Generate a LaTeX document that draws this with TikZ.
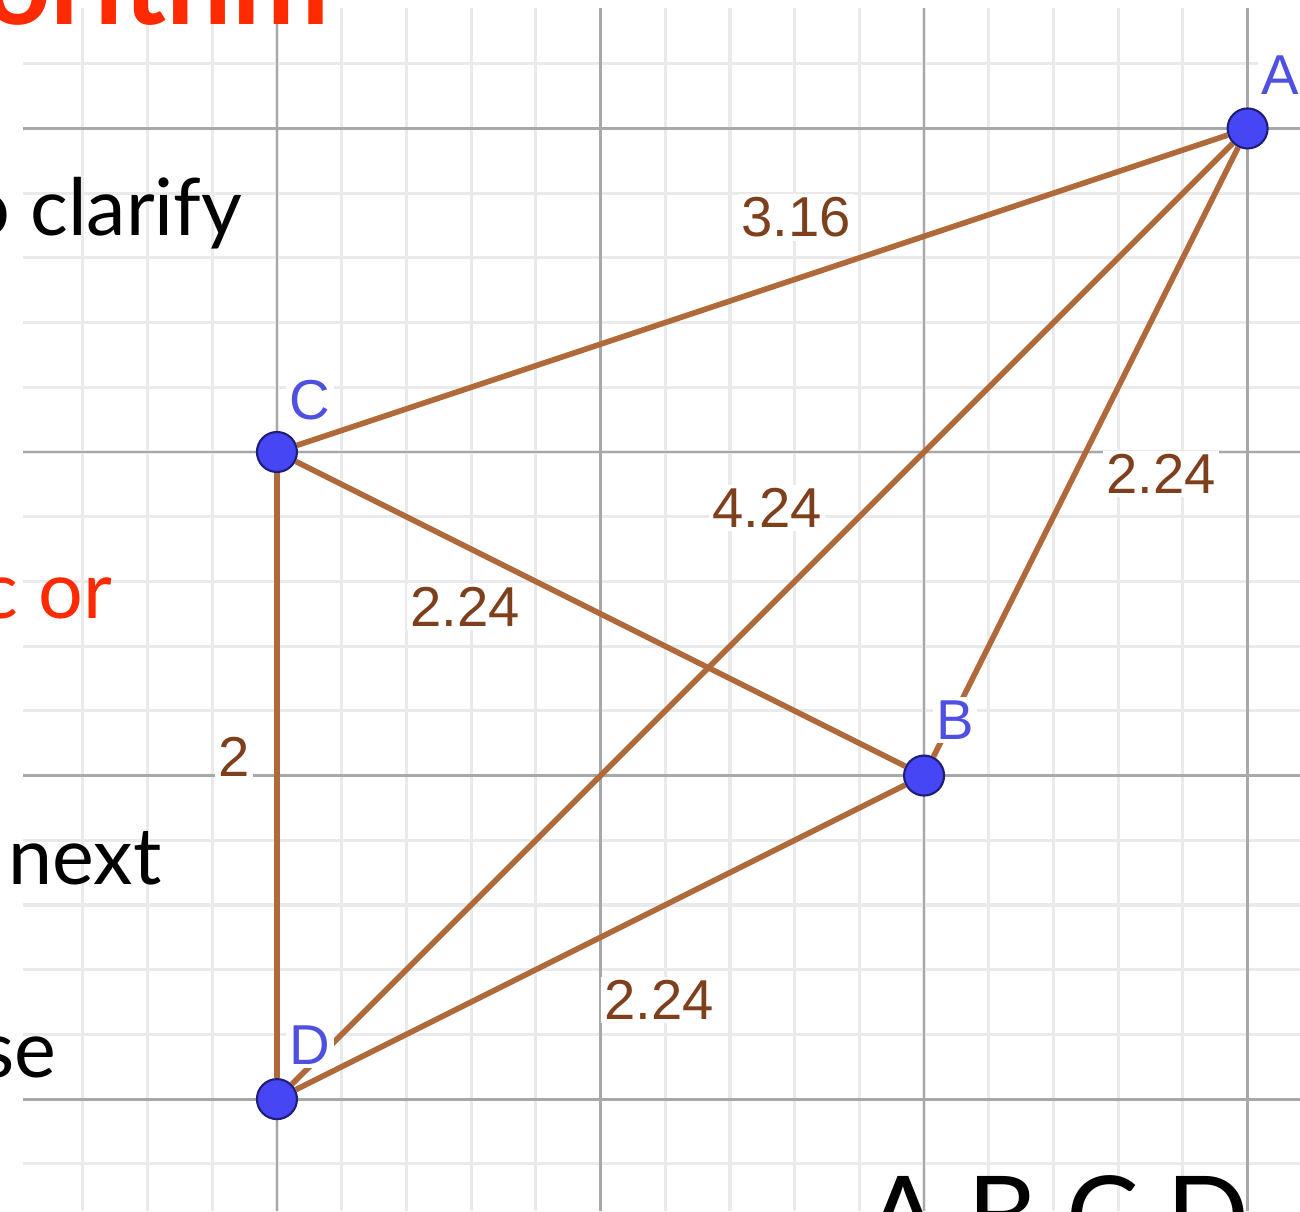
\documentclass[tikz,border=0pt]{standalone}
\usepackage{fontspec}
\setmainfont{Lato}
\newfontfamily\geofont{Liberation Sans}
\usetikzlibrary{positioning}
\definecolor{segCol}{HTML}{B0693A}
\definecolor{segText}{HTML}{7E3F1C}
\definecolor{ptFill}{HTML}{4646F5}
\definecolor{ptDraw}{HTML}{1E1E78}
\definecolor{ptText}{HTML}{4F4FE0}
\definecolor{gridMajor}{HTML}{A8A8A8}
\definecolor{gridMinor}{HTML}{EAEAEA}
\definecolor{slideRed}{HTML}{FF2A00}
\tikzset{
  minorgrid/.style={draw=gridMinor, line width=0.9pt},
  majorgrid/.style={draw=gridMajor, line width=0.8pt},
  seg/.style={draw=segCol, line width=1.6pt},
  pt/.style={
    circle, fill=ptFill, draw=ptDraw, line width=0.6pt,
    minimum size=0.4cm, inner sep=0pt,
  },
  vlabel/.style={
    fill=white, text=ptText, inner sep=1pt,
    font=\geofont\fontsize{16}{18}\selectfont,
  },
  elabel/.style={
    fill=white, text=segText, inner sep=1pt,
    font=\geofont\fontsize{16}{18}\selectfont,
  },
  slidetext/.style={inner sep=0pt, font=\fontsize{22.5}{26}\selectfont},
}

\begin{document}
\begin{tikzpicture}[x=3.235cm, y=3.235cm]

\useasboundingbox[fill=white] (-0.856,-0.346) rectangle (3.162,3.397);

% grid
\draw[minorgrid] (-0.785,-0.346) grid[step=0.2] (3.162,3.372);
\draw[majorgrid] (-0.785,-0.346) grid[step=1] (3.162,3.372);

% slide text behind the graph
\node[slidetext, anchor=base east, text=slideRed,
      font=\fontsize{33}{36}\selectfont\bfseries] (title) at (0.164,3.320) {orithm};
\node[slidetext, anchor=base east] (clarify) at (-0.105,2.668) {o clarify};
\node[slidetext, anchor=base east, text=slideRed] (cor) at (-0.507,1.484) {c or};
\node[slidetext, anchor=base west] (next) at (-0.832,0.662) {next};
\node[slidetext, anchor=base east] (se) at (-0.680,0.068) {se};
\node[slidetext, anchor=base, font=\fontsize{31}{36}\selectfont] (abcd) at (2.414,-0.479) {A B C D};

% points
\node[pt] (A) at (3,3) {};
\node[pt] (B) at (2,1) {};
\node[pt] (C) at (0,2) {};
\node[pt] (D) at (0,0) {};

% segments
\draw[seg] (C) -- (A);
\draw[seg] (B) -- (A);
\draw[seg] (C) -- (B);
\draw[seg] (C) -- (D);
\draw[seg] (D) -- (A);
\draw[seg] (D) -- (B);

% point labels
\node[vlabel] (labA) at (3.100,3.165) {A};
\node[vlabel] (labB) at (2.096,1.172) {B};
\node[vlabel] (labC) at (0.102,2.161) {C};
\node[vlabel] (labD) at (0.102,0.167) {D};

% lengths
\node[elabel] (lenCA) at (1.604,2.726) {3.16};
\node[elabel] (lenDA) at (1.515,1.827) {4.24};
\node[elabel] (lenBA) at (2.733,1.932) {2.24};
\node[elabel] (lenCB) at (0.581,1.521) {2.24};
\node[elabel] (lenDB) at (1.181,0.306) {2.24};
\node[elabel] (lenCD) at (-0.133,1.057) {2};

\end{tikzpicture}
\end{document}
